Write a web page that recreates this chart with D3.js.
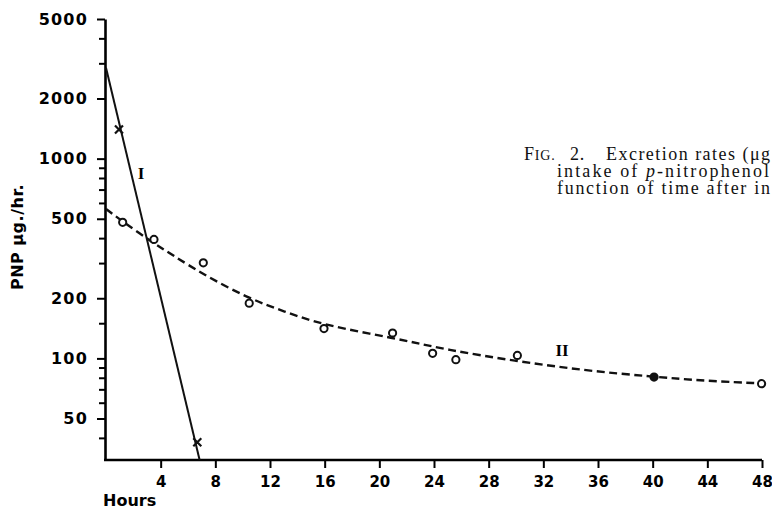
<!DOCTYPE html>
<html>
<head>
<meta charset="utf-8">
<script src="https://cdn.jsdelivr.net/npm/d3@7"></script>
<style>
  body { margin: 0; background: #fff; }
  svg { display: block; }
</style>
</head>
<body>
<div id="chart"></div>
<script>
// hours after intake, PNP excretion (µg./hr.)
var crossHours = [0.95, 6.68];
var crossValues = [1400, 38];

var circleHours = [1.22, 3.51, 7.12, 10.48, 15.95, 20.97, 23.9, 25.6, 30.1, 40.1, 47.97];
var circleValues = [480, 394, 301, 189, 141, 134, 106, 98.5, 103.5, 80.6, 74.7];
var circleFilled = [false, false, false, false, false, false, false, false, false, true, false];

// line I (straight on log paper) and fitted curve II
var lineIHours = [0, 6.85];
var lineIValues = [2850, 31];
var curveIIHours = [0, 1.2, 3.4, 5, 7, 10.4, 13, 16, 21, 25, 30, 35, 40, 44, 48];
var curveIIValues = [560, 485, 381, 325, 266, 200, 172, 146, 127, 110, 97, 87, 81, 77, 75];

var xTicks = [4, 8, 12, 16, 20, 24, 28, 32, 36, 40, 44, 48];
var yMajor = [50, 100, 200, 500, 1000, 2000, 5000];
var yMinor = [40, 60, 70, 80, 90, 150, 300, 400, 600, 700, 800, 900, 3000, 4000];

var captionLines = ["Excretion rates (\u03bcg", "intake of ", "function of time after in"];

var W = 772, H = 509;
var svg = d3.select("#chart").append("svg")
    .attr("width", W)
    .attr("height", H);

var x = d3.scaleLinear().domain([0, 48]).range([106, 762]);
var y = d3.scaleLog().domain([31, 5000]).range([460, 19]);

var sans = "'DejaVu Sans', sans-serif";
var serif = "'Liberation Serif', 'DejaVu Serif', serif";

// y axis: minor ticks first, then labelled ones
svg.append("g")
    .attr("transform", "translate(105,0)")
    .call(d3.axisLeft(y).tickValues(yMinor).tickSize(6).tickFormat(""))
    .call(function(g) { g.select(".domain").remove(); })
    .selectAll("line").attr("stroke-width", 2);

var yAx = svg.append("g")
    .attr("transform", "translate(105,0)")
    .call(d3.axisLeft(y).tickValues(yMajor).tickSize(8).tickSizeOuter(0).tickPadding(9)
      .tickFormat(d3.format("d")));
yAx.select(".domain").attr("stroke-width", 2.6);
yAx.selectAll("line").attr("stroke-width", 2);
yAx.selectAll("text")
    .style("font-family", sans)
    .style("font-weight", "bold")
    .style("font-size", "16px")
    .style("letter-spacing", "1.2px");

// x axis
var xAx = svg.append("g")
    .attr("transform", "translate(0,460)")
    .call(d3.axisBottom(x).tickValues(xTicks).tickSize(8).tickSizeOuter(0).tickPadding(8));
xAx.select(".domain").attr("d", "M104,0H762").attr("stroke-width", 2.6);
xAx.selectAll("line").attr("stroke-width", 2);
xAx.selectAll("text")
    .style("font-family", sans)
    .style("font-weight", "bold")
    .style("font-size", "15px");

svg.append("text")
    .attr("x", 103)
    .attr("y", 506)
    .style("font-family", sans)
    .style("font-weight", "bold")
    .style("font-size", "16px")
    .text("Hours");

svg.append("text")
    .attr("transform", "translate(23,237) rotate(-90)")
    .attr("text-anchor", "middle")
    .style("font-family", sans)
    .style("font-weight", "bold")
    .style("font-size", "16px")
    .style("letter-spacing", "0.5px")
    .text("PNP \u03bcg./hr.");

// line I
var lineI = d3.range(lineIHours.length).map(function(i) { return [lineIHours[i], lineIValues[i]]; });
svg.append("path")
    .datum(lineI)
    .attr("fill", "none")
    .attr("stroke", "#111")
    .attr("stroke-width", 2)
    .attr("d", d3.line().x(function(d) { return x(d[0]); }).y(function(d) { return y(d[1]); }));

// curve II (dashed)
var curveII = d3.range(curveIIHours.length).map(function(i) { return [curveIIHours[i], curveIIValues[i]]; });
svg.append("path")
    .datum(curveII)
    .attr("fill", "none")
    .attr("stroke", "#111")
    .attr("stroke-width", 2.4)
    .attr("stroke-dasharray", "8,4.5")
    .attr("d", d3.line().curve(d3.curveBasis)
      .x(function(d) { return x(d[0]); }).y(function(d) { return y(d[1]); }));

// crosses
var crosses = d3.range(crossHours.length).map(function(i) { return [crossHours[i], crossValues[i]]; });
svg.selectAll(".cross")
    .data(crosses)
    .enter()
    .append("path")
      .attr("class", "cross")
      .attr("transform", function(d) { return "translate(" + x(d[0]) + "," + y(d[1]) + ")"; })
      .attr("d", "M-4,-4L4,4M4,-4L-4,4")
      .attr("stroke", "#111")
      .attr("stroke-width", 2.2);

// circles
var circles = d3.range(circleHours.length).map(function(i) { return [circleHours[i], circleValues[i], circleFilled[i]]; });
svg.selectAll(".pt")
    .data(circles)
    .enter()
    .append("circle")
      .attr("class", "pt")
      .attr("cx", function(d) { return x(d[0]); })
      .attr("cy", function(d) { return y(d[1]); })
      .attr("r", 3.6)
      .attr("fill", function(d) { return d[2] ? "#111" : "#fff"; })
      .attr("stroke", "#111")
      .attr("stroke-width", 2);

// curve labels
svg.append("text")
    .attr("x", 141).attr("y", 179)
    .attr("text-anchor", "middle")
    .style("font-family", serif)
    .style("font-weight", "bold")
    .style("font-size", "17px")
    .text("I");
svg.append("text")
    .attr("x", 562).attr("y", 356)
    .attr("text-anchor", "middle")
    .style("font-family", serif)
    .style("font-weight", "bold")
    .style("font-size", "17px")
    .text("II");

// caption (runs into the right edge, as in the source)
var cap = svg.append("g")
    .style("font-family", serif)
    .style("font-size", "18px")
    .attr("fill", "#111");
var l1 = cap.append("text").attr("x", 524).attr("y", 160)
    .style("letter-spacing", "0.8px");
l1.append("tspan").text("F");
l1.append("tspan").style("font-size", "14px").text("IG.");
l1.append("tspan").attr("x", 570).text("2.");
cap.append("text").attr("x", 606).attr("y", 160)
    .attr("textLength", 164).attr("lengthAdjust", "spacing")
    .text(captionLines[0]);
var l2 = cap.append("text").attr("x", 557).attr("y", 177)
    .attr("textLength", 212).attr("lengthAdjust", "spacing");
l2.append("tspan").text(captionLines[1]);
l2.append("tspan").style("font-style", "italic").text("p");
l2.append("tspan").text("-nitrophenol");
cap.append("text").attr("x", 557).attr("y", 194)
    .attr("textLength", 213).attr("lengthAdjust", "spacing")
    .text(captionLines[2]);
</script>
</body>
</html>
